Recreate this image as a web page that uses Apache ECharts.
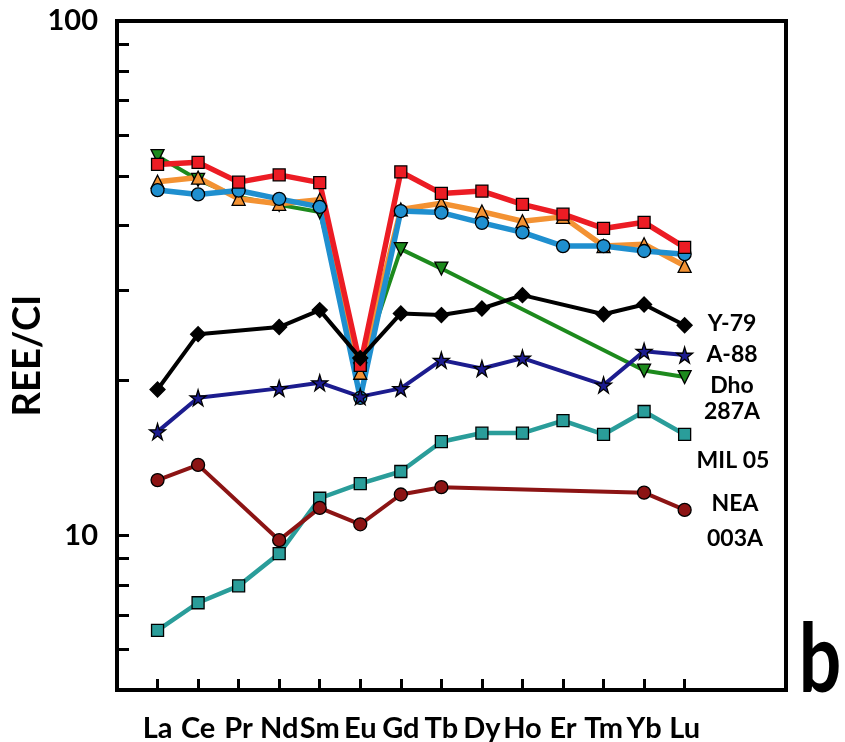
<!DOCTYPE html>
<html>
<head>
<meta charset="utf-8">
<title>REE/CI</title>
<script src="https://cdn.jsdelivr.net/npm/echarts@6/dist/echarts.min.js"></script>
<style>
  html, body { margin: 0; padding: 0; background: #fff; }
  #chart { width: 845px; height: 742px; }
</style>
</head>
<body>
<div id="chart"></div>
<script>
// Rare earth elements, in order along the x axis (positions 1..14)
const elements = ['La', 'Ce', 'Pr', 'Nd', 'Sm', 'Eu', 'Gd', 'Tb', 'Dy', 'Ho', 'Er', 'Tm', 'Yb', 'Lu'];

// Chondrite-normalised abundances; null = element not measured
const redSquares   = [52.6, 53.1, 48.6, 50.2, 48.5, 21.4, 50.9, 46.2, 46.7, 44.0, 42.1, 39.5, 40.6, 36.3];
const orangeTri    = [48.7, 49.6, 45.1, 44.1, 44.9, 20.7, 43.0, 44.2, 42.6, 40.8, 41.6, 36.5, 36.8, 33.4];
const blueCircles  = [46.9, 46.0, 46.8, 45.1, 43.5, 18.5, 42.7, 42.4, 40.5, 38.8, 36.5, 36.5, 35.7, 35.2];
const dho287A      = [54.6, 49.1, 45.5, 43.9, 42.5, 21.0, 36.0, 33.0, null, null, null, null, 20.9, 20.3];
const y79          = [19.2, 24.6, null, 25.4, 27.4, 22.1, 27.0, 26.8, 27.6, 29.3, null, 26.9, 28.1, 25.6];
const a88          = [15.9, 18.5, null, 19.3, 19.8, 18.6, 19.3, 21.9, 21.1, 22.1, null, 19.6, 22.8, 22.4];
const mil05        = [6.53, 7.39, 7.97, 9.21, 11.8, 12.6, 13.3, 15.2, 15.8, 15.8, 16.7, 15.7, 17.4, 15.7];
const nea003A      = [12.8, 13.7, null, 9.78, 11.3, 10.5, 12.0, 12.4, null, null, null, null, 12.1, 11.2];

// Axis tick values
const yLabelValues = [10, 100];
const yTickValues  = [6, 7, 8, 9, 10, 20, 30, 40, 50, 60, 70, 80, 90, 100];
const xTickValues  = elements.map((_, i) => i + 1);

const FONT = 'Lato';

function pairs(values) {
  return values.map((v, i) => [i + 1, v]);
}

function line(name, values, opts) {
  return {
    name: name,
    type: 'line',
    data: pairs(values),
    connectNulls: true,
    symbol: opts.symbol,
    symbolSize: opts.size,
    symbolRotate: opts.rotate || 0,
    lineStyle: { color: opts.color, width: opts.width },
    itemStyle: { color: opts.color, borderColor: '#000', borderWidth: 1.3 },
    emphasis: { disabled: true },
    z: 3
  };
}

const chart = echarts.init(document.getElementById('chart'), null, { renderer: 'canvas' });

const option = {
  animation: false,
  backgroundColor: '#fff',
  grid: {
    left: 117, right: 59, top: 21, bottom: 52,
    outerBoundsMode: 'none',
    containLabel: false,
    show: true, borderColor: '#000', borderWidth: 4, backgroundColor: 'transparent'
  },
  xAxis: {
    type: 'value',
    min: 0,
    max: 16.5,
    splitLine: { show: false },
    axisLine: { show: true, lineStyle: { color: '#000', width: 4 } },
    axisTick: {
      show: true, inside: true, length: 11,
      lineStyle: { color: '#000', width: 3 },
      customValues: xTickValues
    },
    axisLabel: {
      customValues: xTickValues,
      formatter: v => elements[Math.round(v) - 1] || '',
      color: '#000', fontFamily: FONT, fontWeight: 'bold', fontSize: 29, margin: 24
    }
  },
  yAxis: {
    type: 'log',
    logBase: 10,
    min: 5,
    max: 100,
    name: 'REE/CI',
    nameLocation: 'middle',
    nameRotate: 90,
    nameGap: 70,
    nameMoveOverlap: false,
    nameTextStyle: { color: '#000', fontFamily: FONT, fontWeight: 'bold', fontSize: 38 },
    splitLine: { show: false },
    axisLine: { show: true, lineStyle: { color: '#000', width: 4 } },
    axisTick: {
      show: true, inside: true, length: 12,
      lineStyle: { color: '#000', width: 3 },
      customValues: yTickValues
    },
    axisLabel: {
      customValues: yLabelValues,
      formatter: v => String(Math.round(v)),
      color: '#000', fontFamily: FONT, fontWeight: 'bold', fontSize: 29, margin: 19
    }
  },
  series: [
    line('Dho 287A', dho287A, { symbol: 'triangle', rotate: 180, size: 13, color: '#1d8a1d', width: 4 }),
    line('orange', orangeTri, { symbol: 'triangle', size: 13, color: '#f39233', width: 5.5 }),
    line('blue', blueCircles, { symbol: 'circle', size: 13, color: '#1f8fcf', width: 5.5 }),
    line('red', redSquares, { symbol: 'rect', size: 12, color: '#ec1c24', width: 5.5 }),
    line('Y-79', y79, { symbol: 'diamond', size: 15, color: '#000', width: 4 }),
    line('A-88', a88, { symbol: 'path://M50,0 L61,35 L98,35 L68,57 L79,91 L50,70 L21,91 L32,57 L2,35 L39,35 Z', size: 16, color: '#1c1c8e', width: 4 }),
    line('MIL 05', mil05, { symbol: 'rect', size: 12, color: '#2a9d9a', width: 4.5 }),
    line('NEA 003A', nea003A, { symbol: 'circle', size: 13, color: '#8c1414', width: 4 })
  ],
  graphic: [
    { type: 'text', x: 732, y: 324, style: { text: 'Y-79', align: 'center', verticalAlign: 'middle', font: 'bold 23px Lato', fill: '#000' } },
    { type: 'text', x: 732, y: 355, style: { text: 'A-88', align: 'center', verticalAlign: 'middle', font: 'bold 23px Lato', fill: '#000' } },
    { type: 'text', x: 732, y: 386, style: { text: 'Dho', align: 'center', verticalAlign: 'middle', font: 'bold 23px Lato', fill: '#000' } },
    { type: 'text', x: 732, y: 412, style: { text: '287A', align: 'center', verticalAlign: 'middle', font: 'bold 23px Lato', fill: '#000' } },
    { type: 'text', x: 733, y: 461, style: { text: 'MIL 05', align: 'center', verticalAlign: 'middle', font: 'bold 23px Lato', fill: '#000' } },
    { type: 'text', x: 735, y: 504, style: { text: 'NEA', align: 'center', verticalAlign: 'middle', font: 'bold 23px Lato', fill: '#000' } },
    { type: 'text', x: 735, y: 539, style: { text: '003A', align: 'center', verticalAlign: 'middle', font: 'bold 23px Lato', fill: '#000' } },
    { type: 'text', x: 820, y: 661, scaleX: 0.78, style: { text: 'b', align: 'center', verticalAlign: 'middle', font: 'bold 96px Lato', fill: '#000' } }
  ]
};

chart.setOption(option);
</script>
</body>
</html>
